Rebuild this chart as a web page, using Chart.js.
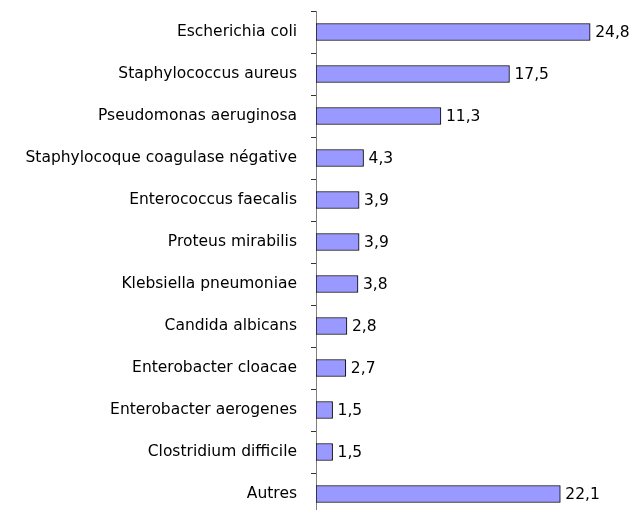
<!DOCTYPE html>
<html>
<head>
<meta charset="utf-8">
<script src="https://cdn.jsdelivr.net/npm/chart.js@4/dist/chart.umd.min.js"></script>
<style>
  html, body { margin: 0; padding: 0; background: #fff; overflow: hidden; }
</style>
</head>
<body>
<canvas id="chart" width="637" height="530"></canvas>
<script>
const germs = [
  'Escherichia coli',
  'Staphylococcus aureus',
  'Pseudomonas aeruginosa',
  'Staphylocoque coagulase négative',
  'Enterococcus faecalis',
  'Proteus mirabilis',
  'Klebsiella pneumoniae',
  'Candida albicans',
  'Enterobacter cloacae',
  'Enterobacter aerogenes',
  'Clostridium difficile',
  'Autres'
];
const percents = [24.8, 17.5, 11.3, 4.3, 3.9, 3.9, 3.8, 2.8, 2.7, 1.5, 1.5, 22.1];

const fontFamily = '"DejaVu Sans", sans-serif';

// write the value next to each bar, french style (comma)
const valueLabels = {
  id: 'valueLabels',
  afterDatasetsDraw(chart) {
    const ctx = chart.ctx;
    const meta = chart.getDatasetMeta(0);
    ctx.save();
    ctx.font = '15.5px ' + fontFamily;
    ctx.fillStyle = '#000';
    ctx.textAlign = 'left';
    ctx.textBaseline = 'middle';
    meta.data.forEach((bar, i) => {
      const txt = percents[i].toFixed(1).replace('.', ',');
      ctx.fillText(txt, bar.x + 5, bar.y + 1);
    });
    ctx.restore();
  }
};

new Chart(document.getElementById('chart'), {
  type: 'bar',
  data: {
    labels: germs,
    datasets: [{
      data: percents,
      backgroundColor: '#9999ff',
      borderColor: '#000',
      borderWidth: 1,
      borderSkipped: false,
      barThickness: 17
    }]
  },
  options: {
    indexAxis: 'y',
    responsive: false,
    animation: false,
    layout: { padding: { top: 11, bottom: 15, right: 17, left: 0 } },
    plugins: {
      legend: { display: false },
      tooltip: { enabled: false }
    },
    scales: {
      x: {
        display: false,
        min: 0,
        max: 27.5
      },
      y: {
        afterFit: (scale) => {
          scale.width = 316;
          scale.paddingTop = 0;
          scale.paddingBottom = 0;
        },
        border: { display: true, color: '#808080', width: 1 },
        grid: {
          offset: true,
          drawOnChartArea: false,
          drawTicks: true,
          tickLength: 5,
          color: '#333'
        },
        ticks: {
          color: '#000',
          padding: 14,
          font: { family: fontFamily, size: 15.5 }
        }
      }
    }
  },
  plugins: [valueLabels]
});
</script>
</body>
</html>
